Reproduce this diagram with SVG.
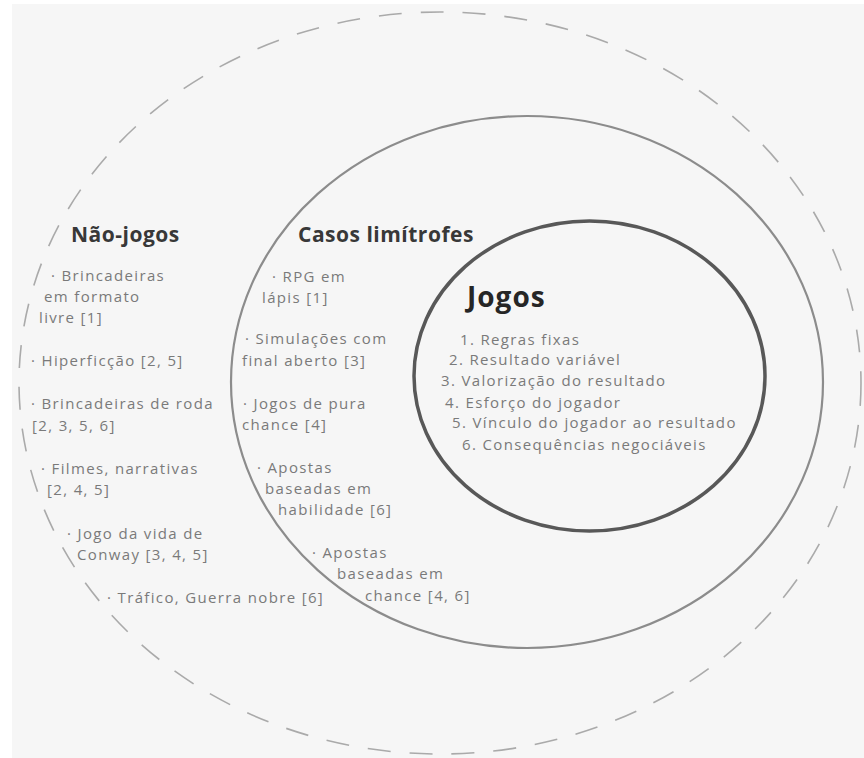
<svg xmlns="http://www.w3.org/2000/svg" width="864" height="758" viewBox="0 0 864 758">
  <style>
    .item { font-family: "Open Sans", "Liberation Sans", sans-serif; font-size: 15px; fill: #7a7a7a; letter-spacing: 1.35px; }
    .head { font-family: "Open Sans", "Liberation Sans", sans-serif; font-size: 21px; font-weight: bold; fill: #383838; letter-spacing: 0.5px; }
    .title { font-family: "Open Sans", "Liberation Sans", sans-serif; font-size: 28px; font-weight: bold; fill: #262626; letter-spacing: 1px; }
    .outer { fill: none; stroke: #aaaaaa; stroke-width: 1.6; stroke-dasharray: 23 19; }
    .middle { fill: none; stroke: #8c8c8c; stroke-width: 2.2; }
    .inner { fill: none; stroke: #585858; stroke-width: 3.5; }
  </style>
  <rect x="0" y="0" width="864" height="758" fill="#ffffff"/>
  <rect x="12" y="4" width="852" height="754" fill="#f6f6f6"/>

  <g id="nao-jogos">
    <ellipse class="outer" cx="440" cy="383" rx="421" ry="371"/>
    <text class="head" x="71" y="242">Não-jogos</text>
    <text class="item" x="51" y="281">· Brincadeiras</text>
    <text class="item" x="44" y="302">em formato</text>
    <text class="item" x="39" y="323">livre [1]</text>
    <text class="item" x="31" y="366">· Hiperficção [2, 5]</text>
    <text class="item" x="31" y="409">· Brincadeiras de roda</text>
    <text class="item" x="32" y="431">[2, 3, 5, 6]</text>
    <text class="item" x="41" y="474">· Filmes, narrativas</text>
    <text class="item" x="47" y="495">[2, 4, 5]</text>
    <text class="item" x="67" y="539">· Jogo da vida de</text>
    <text class="item" x="77" y="560">Conway [3, 4, 5]</text>
    <text class="item" x="107" y="603">· Tráfico, Guerra nobre [6]</text>
  </g>

  <g id="casos-limitrofes">
    <ellipse class="middle" cx="527" cy="382" rx="296" ry="266"/>
    <text class="head" x="298" y="242">Casos limítrofes</text>
    <text class="item" x="272" y="282">· RPG em</text>
    <text class="item" x="262" y="303">lápis [1]</text>
    <text class="item" x="245" y="344">· Simulações com</text>
    <text class="item" x="242" y="366">final aberto [3]</text>
    <text class="item" x="243" y="409">· Jogos de pura</text>
    <text class="item" x="242" y="430">chance [4]</text>
    <text class="item" x="257" y="473">· Apostas</text>
    <text class="item" x="265" y="494">baseadas em</text>
    <text class="item" x="278" y="515">habilidade [6]</text>
    <text class="item" x="312" y="558">· Apostas</text>
    <text class="item" x="337" y="579">baseadas em</text>
    <text class="item" x="365" y="601">chance [4, 6]</text>
  </g>

  <g id="jogos">
    <ellipse class="inner" cx="589.5" cy="376" rx="175.5" ry="155"/>
    <text class="title" x="467" y="307">Jogos</text>
    <text class="item" x="460" y="345">1. Regras fixas</text>
    <text class="item" x="449" y="365">2. Resultado variável</text>
    <text class="item" x="441" y="386">3. Valorização do resultado</text>
    <text class="item" x="445" y="408">4. Esforço do jogador</text>
    <text class="item" x="452" y="428">5. Vínculo do jogador ao resultado</text>
    <text class="item" x="462" y="450">6. Consequências negociáveis</text>
  </g>
</svg>
